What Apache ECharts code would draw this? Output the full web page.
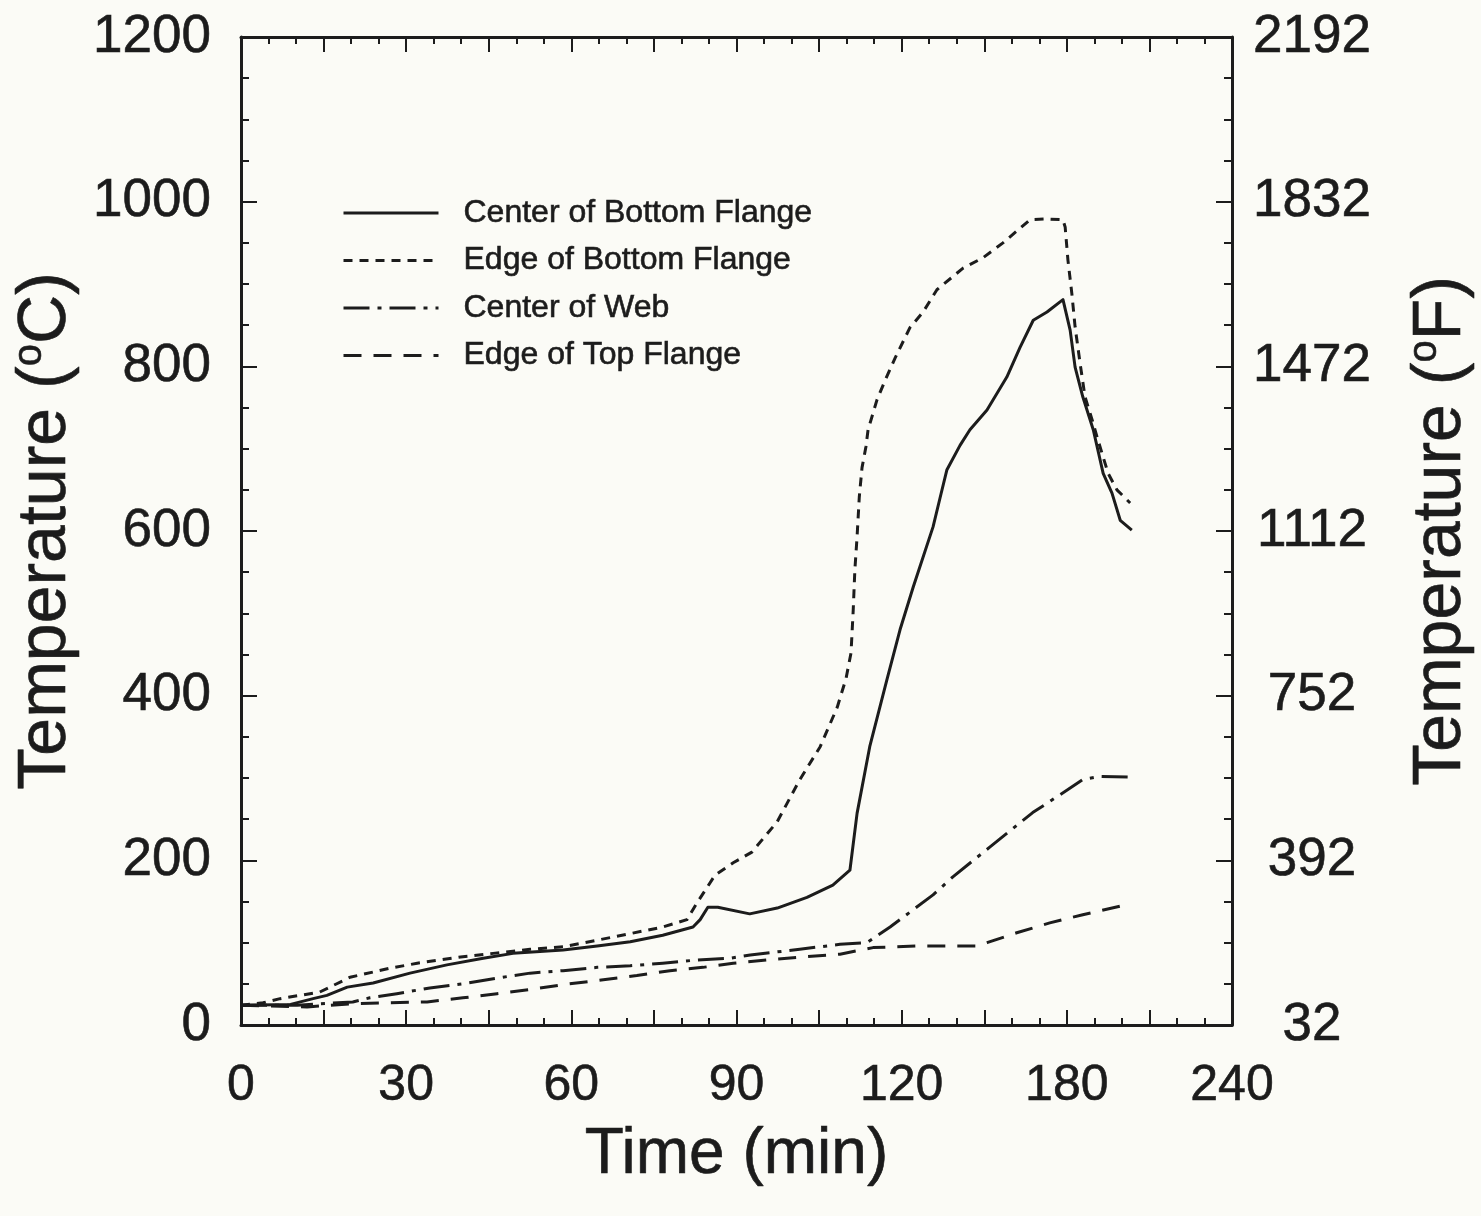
<!DOCTYPE html>
<html>
<head>
<meta charset="utf-8">
<title>Beam temperatures</title>
<script src="https://cdn.jsdelivr.net/npm/echarts@6/dist/echarts.min.js"></script>
<style>
  html, body { margin: 0; padding: 0; background: #fbfbf6; }
  #chart { width: 1481px; height: 1216px; }
</style>
</head>
<body>
<div id="chart"></div>
<script>
// Tick labels
const xTickLabels = ['0', '30', '60', '90', '120', '180', '240'];
const cTickLabels = ['0', '200', '400', '600', '800', '1000', '1200'];
const fTickLabels = ['32', '392', '752', '1112', '1472', '1832', '2192'];

// Series names
const seriesNames = ['Center of Bottom Flange', 'Edge of Bottom Flange', 'Center of Web', 'Edge of Top Flange'];

// Thermocouple readings: [time position on axis, temperature °C]
const centerBottomFlange = [
  [0, 24], [9, 25], [13.1, 32], [15.6, 36], [19.3, 46], [24, 51], [30.7, 63], [37.4, 73],
  [44, 81], [49.4, 87], [58.5, 91], [64.7, 96], [70.7, 101], [76.6, 109], [82.1, 119],
  [83.4, 128], [84.8, 143], [86.6, 143], [92.4, 135], [97.4, 142], [102.8, 155], [107.5, 170],
  [110.6, 188], [111.9, 257], [114.2, 338], [117.3, 419], [119.7, 480], [122.1, 532],
  [125.7, 605], [127, 641], [128.2, 674], [130.6, 704], [132.4, 723], [135.5, 747],
  [139.1, 787], [141.5, 823], [143.9, 856], [146.4, 866], [149.3, 881], [150.6, 844],
  [151.5, 799], [152.9, 763], [154.8, 723], [156.6, 670], [158.2, 646], [159.7, 613], [161.8, 601]
];

const edgeBottomFlange = [
  [0, 24], [4, 27], [7.1, 32], [14.3, 40], [19.8, 58], [27.1, 69], [32, 75], [40.3, 83],
  [45.8, 87], [52.5, 92], [58.5, 95], [64.7, 103], [70.7, 111], [76.6, 119], [81, 128],
  [82.8, 148], [86.1, 182], [89.4, 197], [92.8, 210], [97.4, 247], [101.5, 298], [105.2, 338],
  [108.3, 386], [109.9, 421], [110.8, 452], [111.2, 504], [111.5, 553], [111.9, 593],
  [112.3, 641], [112.8, 677], [113.5, 702], [113.9, 723], [115.5, 759], [117, 783],
  [118.8, 810], [121.5, 847], [123.9, 866], [126.4, 893], [131.1, 919], [134.8, 932],
  [138.4, 950], [143.3, 978], [146.4, 979], [149.3, 978], [149.7, 969], [150.2, 929],
  [150.9, 889], [151.5, 848], [152.4, 804], [153.3, 763], [154.6, 735], [155.5, 714],
  [157.5, 670], [159.1, 650], [161.5, 634]
];

const centerWeb = [
  [0, 24], [5.8, 24], [10.2, 24], [20.3, 28], [23.4, 33], [28.3, 38], [34.3, 45], [40.3, 50],
  [46.5, 57], [52.5, 63], [58.5, 66], [64.7, 70], [70.7, 72], [76.6, 75], [82.8, 79],
  [88.8, 81], [92.5, 85], [101.5, 92], [108.8, 98], [113.7, 100], [117.9, 119], [125.7, 158],
  [129.3, 180], [136, 216], [143.8, 258], [150, 285], [152.9, 298], [156, 302], [161.5, 301]
];

const edgeTopFlange = [
  [0, 24], [12, 22], [16.2, 24], [21.1, 26], [27.1, 27], [33.8, 28], [40.3, 33], [46.5, 38],
  [52.5, 43], [58.5, 49], [65.8, 55], [71.9, 60], [77.9, 66], [83.9, 70], [89.4, 75],
  [95.5, 79], [102.8, 83], [108.8, 86], [114.8, 94], [122.8, 96], [128.8, 96], [133.7, 96],
  [135.5, 100], [140.9, 112], [146.9, 124], [152.9, 134], [160.2, 145], [161.5, 146]
];

const INK = '#1c1c1c';
const FONT = '"Liberation Sans", Arial, Helvetica, sans-serif';

const tickStyle = { color: INK, width: 2 };
const frameLine = { show: true, onZero: false, lineStyle: { color: INK, width: 3 } };

const supRich = {
  s: { fontFamily: FONT, fontSize: 40, color: INK, verticalAlign: 'top', lineHeight: 72 }
};
const titleStyle = (size) => ({
  fontFamily: FONT, fontSize: size, color: INK, lineHeight: 72,
  textBorderColor: INK, textBorderWidth: 0.6, rich: supRich
});

const chart = echarts.init(document.getElementById('chart'), null, { renderer: 'canvas' });

function makeSeries(name, data, dash) {
  return {
    name: name,
    type: 'line',
    data: data,
    symbol: 'none',
    smooth: false,
    animation: false,
    lineStyle: { color: INK, width: 3, type: dash, cap: 'butt', join: 'round' },
    itemStyle: { color: INK }
  };
}

chart.setOption({
  backgroundColor: '#fbfbf6',
  animation: false,
  grid: { left: 241, right: 249, top: 37, bottom: 191, containLabel: false, outerBoundsMode: 'none' },
  legend: {
    data: seriesNames,
    orient: 'vertical',
    left: 342,
    top: 196,
    padding: 0,
    itemWidth: 95,
    itemHeight: 20,
    itemGap: 13.5,
    lineStyle: { width: 3 },
    itemStyle: { opacity: 0, borderWidth: 0 },
    textStyle: {
      fontFamily: FONT, fontSize: 32, color: INK, lineHeight: 34, padding: [0, 0, 0, 20],
      textBorderColor: INK, textBorderWidth: 0.6
    },
    selectedMode: false
  },
  xAxis: [
    {
      type: 'value', position: 'bottom', min: 0, max: 180, interval: 15,
      axisLine: frameLine,
      axisTick: { show: true, inside: true, length: 15, lineStyle: tickStyle },
      minorTick: { show: true, splitNumber: 3, length: 7, lineStyle: tickStyle },
      splitLine: { show: false },
      axisLabel: {
        fontFamily: FONT, fontSize: 50, color: INK, margin: 36,
        textBorderColor: INK, textBorderWidth: 0.6,
        formatter: (v) => (v % 30 === 0 ? xTickLabels[v / 30] : '')
      },
      name: 'Time (min)', nameLocation: 'middle', nameGap: 94,
      nameTextStyle: titleStyle(64)
    },
    {
      type: 'value', position: 'top', min: 0, max: 180, interval: 15,
      axisLine: frameLine,
      axisTick: { show: true, inside: true, length: 15, lineStyle: tickStyle },
      minorTick: { show: true, splitNumber: 3, length: 7, lineStyle: tickStyle },
      splitLine: { show: false },
      axisLabel: { show: false }
    }
  ],
  yAxis: [
    {
      type: 'value', position: 'left', min: 0, max: 1200, interval: 200,
      axisLine: frameLine,
      axisTick: { show: true, inside: true, length: 16, lineStyle: tickStyle },
      minorTick: { show: true, splitNumber: 4, length: 8, lineStyle: tickStyle },
      splitLine: { show: false },
      axisLabel: {
        fontFamily: FONT, fontSize: 53, color: INK, margin: 30,
        textBorderColor: INK, textBorderWidth: 0.6,
        formatter: (v) => cTickLabels[Math.round(v / 200)]
      },
      name: 'Temperature ({s|o}C)', nameLocation: 'middle', nameGap: 155, nameRotate: 90,
      nameTextStyle: titleStyle(68)
    },
    {
      type: 'value', position: 'right', min: 0, max: 1200, interval: 200,
      axisLine: frameLine,
      axisTick: { show: true, inside: true, length: 16, lineStyle: tickStyle },
      minorTick: { show: true, splitNumber: 4, length: 8, lineStyle: tickStyle },
      splitLine: { show: false },
      axisLabel: {
        fontFamily: FONT, fontSize: 53, color: INK, margin: 80, align: 'center',
        textBorderColor: INK, textBorderWidth: 0.6,
        formatter: (v) => fTickLabels[Math.round(v / 200)]
      },
      name: 'Temperature ({s|o}F)', nameLocation: 'middle', nameGap: 173, nameRotate: 90,
      nameTextStyle: titleStyle(68)
    }
  ],
  series: [
    makeSeries(seriesNames[0], centerBottomFlange, 'solid'),
    makeSeries(seriesNames[1], edgeBottomFlange, [9, 7]),
    makeSeries(seriesNames[2], centerWeb, [26, 8, 4, 8]),
    makeSeries(seriesNames[3], edgeTopFlange, [18, 12])
  ]
});
</script>
</body>
</html>
